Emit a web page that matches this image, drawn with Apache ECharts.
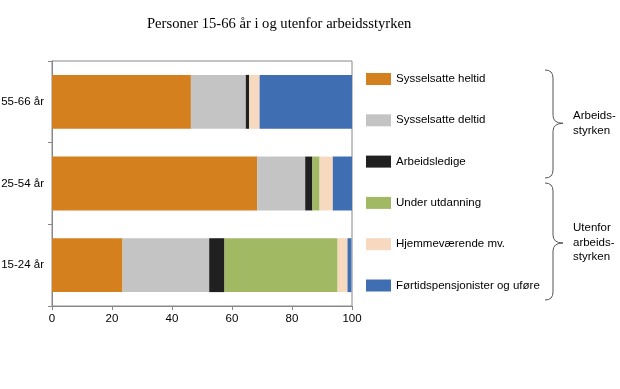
<!DOCTYPE html>
<html>
<head>
<meta charset="utf-8">
<script src="https://cdn.jsdelivr.net/npm/echarts@6/dist/echarts.min.js"></script>
<style>
html,body{margin:0;padding:0;background:#fff;}
#chart{width:620px;height:389px;}
</style>
</head>
<body>
<div id="chart"></div>
<script>
const categories = ['15-24 år', '25-54 år', '55-66 år'];
const seriesNames = ['Sysselsatte heltid', 'Sysselsatte deltid', 'Arbeidsledige', 'Under utdanning', 'Hjemmeværende mv.', 'Førtidspensjonister og uføre'];
const heltid = [23.5, 68.4, 46.3];
const deltid = [28.9, 16.0, 18.3];
const ledige = [5.1, 2.4, 1.1];
const utdanning = [37.7, 2.4, 0.1];
const hjemme = [3.3, 4.4, 3.4];
const ufore = [1.3, 6.4, 30.8];
const xTicks = [0, 20, 40, 60, 80, 100];
const colors = ['#D4801F', '#C4C4C4', '#202020', '#A2B964', '#F6D9BE', '#3F6EB3'];
const values = [heltid, deltid, ledige, utdanning, hjemme, ufore];

const chart = echarts.init(document.getElementById('chart'));
const font = 'Liberation Sans, Arial, sans-serif';
const fs = 11.5;

const series = seriesNames.map((n, i) => ({
  name: n,
  type: 'bar',
  stack: 'total',
  barCategoryGap: '34%',
  itemStyle: { color: colors[i] },
  data: values[i]
}));

function brace(y1, y2, ym) {
  const x0 = 545, x1 = 553, xt = 563;
  const st = { stroke: '#555', lineWidth: 1, fill: null };
  const q = (a, b, c, d, e, f) => ({ type: 'bezierCurve', shape: { x1: a, y1: b, cpx1: c, cpy1: d, x2: e, y2: f }, style: st });
  const l = (a, b, c, d) => ({ type: 'line', shape: { x1: a, y1: b, x2: c, y2: d }, style: st });
  return [
    q(x0, y1, x1, y1, x1, y1 + 8),
    l(x1, y1 + 8, x1, ym - 8),
    q(x1, ym - 8, x1, ym, xt, ym),
    q(xt, ym, x1, ym, x1, ym + 8),
    l(x1, ym + 8, x1, y2 - 8),
    q(x1, y2 - 8, x1, y2, x0, y2)
  ];
}

chart.setOption({
  animation: false,
  color: colors,
  title: {
    text: 'Personer 15-66 år i og utenfor arbeidsstyrken',
    left: 147, top: 17, padding: 0,
    textStyle: { fontFamily: 'Liberation Serif, Times New Roman, serif', fontWeight: 'normal', fontSize: 14.6, color: '#000' }
  },
  legend: {
    orient: 'vertical',
    left: 366, top: 73,
    padding: 0,
    itemWidth: 25, itemHeight: 12,
    itemGap: 29.3,
    icon: 'rect',
    selectedMode: false,
    textStyle: { fontFamily: font, fontSize: fs, color: '#000', lineHeight: 12 },
    data: seriesNames
  },
  grid: {
    left: 52, top: 61, width: 300, height: 245,
    outerBoundsMode: 'none', containLabel: false,
    show: true, borderColor: '#888', borderWidth: 1
  },
  xAxis: {
    type: 'value', min: xTicks[0], max: xTicks[xTicks.length - 1], interval: 20,
    axisLine: { show: true, lineStyle: { color: '#888' } },
    axisTick: { show: true, length: 4, lineStyle: { color: '#888' } },
    splitLine: { show: false },
    axisLabel: { fontFamily: font, fontSize: fs, color: '#000', margin: 7 }
  },
  yAxis: {
    type: 'category', data: categories,
    axisLine: { show: true, lineStyle: { color: '#888' } },
    axisTick: { show: true, length: 4, lineStyle: { color: '#888' } },
    axisLabel: { fontFamily: font, fontSize: fs, color: '#000', margin: 8 }
  },
  series: series,
  graphic: [].concat(
    brace(70, 178, 123.3),
    brace(183, 300, 243),
    [
      { type: 'text', left: 573, top: 109, style: { text: 'Arbeids-\nstyrken', font: fs + 'px ' + font, fill: '#000', lineHeight: 14.5 } },
      { type: 'text', left: 573, top: 221, style: { text: 'Utenfor\narbeids-\nstyrken', font: fs + 'px ' + font, fill: '#000', lineHeight: 14.5 } }
    ]
  )
});
</script>
</body>
</html>
